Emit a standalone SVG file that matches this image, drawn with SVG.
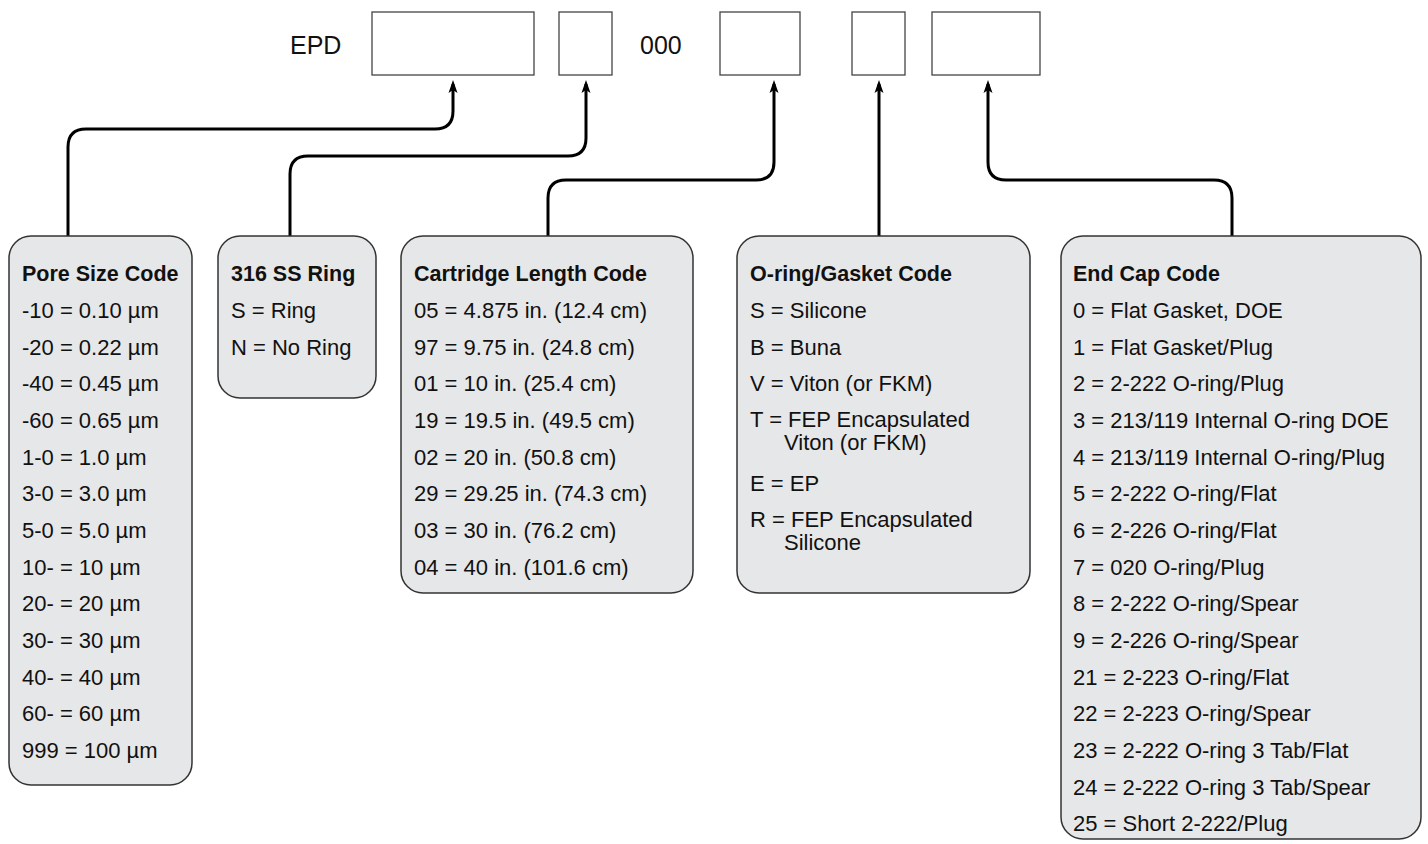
<svg xmlns="http://www.w3.org/2000/svg" width="1428" height="844" viewBox="0 0 1428 844">
<defs>
<marker id="arr" markerWidth="14" markerHeight="10" refX="9" refY="5" orient="auto" markerUnits="userSpaceOnUse" viewBox="0 0 14 10">
<path d="M0,0.5 L13,5 L0,9.5 L3,5 Z" fill="#000"/>
</marker>
</defs>
<style>
.slot{fill:#fff;stroke:#444;stroke-width:1.3}
.card{fill:#e6e7e8;stroke:#333;stroke-width:1.5}
.t{font-family:"Liberation Sans",Arial,sans-serif;font-size:22px;fill:#111}
.h{font-family:"Liberation Sans",Arial,sans-serif;font-size:21.5px;font-weight:bold;fill:#111}
.big{font-family:"Liberation Sans",Arial,sans-serif;font-size:25px;fill:#111}
.c{fill:none;stroke:#000;stroke-width:3}
</style>
<g id="code">
<text class="big" x="290" y="54">EPD</text>
<rect class="slot" x="372" y="12" width="162" height="63"/>
<rect class="slot" x="559" y="12" width="53" height="63"/>
<text class="big" x="640" y="54">000</text>
<rect class="slot" x="720" y="12" width="80" height="63"/>
<rect class="slot" x="852" y="12" width="53" height="63"/>
<rect class="slot" x="932" y="12" width="108" height="63"/>
</g>
<g id="connectors">
<path class="c" marker-end="url(#arr)" d="M68,236 V147 Q68,129 86,129 H435 Q453,129 453,111 V84"/>
<path class="c" marker-end="url(#arr)" d="M290,236 V174 Q290,156 308,156 H568 Q586,156 586,138 V84"/>
<path class="c" marker-end="url(#arr)" d="M548,236 V198 Q548,180 566,180 H756 Q774,180 774,162 V84"/>
<path class="c" marker-end="url(#arr)" d="M879,236 V84"/>
<path class="c" marker-end="url(#arr)" d="M1232,236 V198 Q1232,180 1214,180 H1006 Q988,180 988,162 V84"/>
</g>
<g id="pore">
<rect class="card" x="9" y="236" width="183" height="549" rx="22"/>
<text class="h" x="22" y="281">Pore Size Code</text>
<text class="t" x="22" y="318">-10 = 0.10 µm</text>
<text class="t" x="22" y="354.7">-20 = 0.22 µm</text>
<text class="t" x="22" y="391.3">-40 = 0.45 µm</text>
<text class="t" x="22" y="428">-60 = 0.65 µm</text>
<text class="t" x="22" y="464.7">1-0 = 1.0 µm</text>
<text class="t" x="22" y="501.3">3-0 = 3.0 µm</text>
<text class="t" x="22" y="538">5-0 = 5.0 µm</text>
<text class="t" x="22" y="574.7">10- = 10 µm</text>
<text class="t" x="22" y="611.3">20- = 20 µm</text>
<text class="t" x="22" y="648">30- = 30 µm</text>
<text class="t" x="22" y="684.7">40- = 40 µm</text>
<text class="t" x="22" y="721.3">60- = 60 µm</text>
<text class="t" x="22" y="758">999 = 100 µm</text>
</g>
<g id="ring">
<rect class="card" x="218" y="236" width="158" height="162" rx="22"/>
<text class="h" x="231" y="281">316 SS Ring</text>
<text class="t" x="231" y="318">S = Ring</text>
<text class="t" x="231" y="354.7">N = No Ring</text>
</g>
<g id="length">
<rect class="card" x="401" y="236" width="292" height="357" rx="22"/>
<text class="h" x="414" y="281">Cartridge Length Code</text>
<text class="t" x="414" y="318">05 = 4.875 in. (12.4 cm)</text>
<text class="t" x="414" y="354.7">97 = 9.75 in. (24.8 cm)</text>
<text class="t" x="414" y="391.3">01 = 10 in. (25.4 cm)</text>
<text class="t" x="414" y="428">19 = 19.5 in. (49.5 cm)</text>
<text class="t" x="414" y="464.7">02 = 20 in. (50.8 cm)</text>
<text class="t" x="414" y="501.3">29 = 29.25 in. (74.3 cm)</text>
<text class="t" x="414" y="538">03 = 30 in. (76.2 cm)</text>
<text class="t" x="414" y="574.7">04 = 40 in. (101.6 cm)</text>
</g>
<g id="oring">
<rect class="card" x="737" y="236" width="293" height="357" rx="22"/>
<text class="h" x="750" y="281">O-ring/Gasket Code</text>
<text class="t" x="750" y="318">S = Silicone</text>
<text class="t" x="750" y="354.7">B = Buna</text>
<text class="t" x="750" y="391.3">V = Viton (or FKM)</text>
<text class="t" x="750" y="427">T = FEP Encapsulated</text>
<text class="t" x="784" y="450">Viton (or FKM)</text>
<text class="t" x="750" y="491">E = EP</text>
<text class="t" x="750" y="527">R = FEP Encapsulated</text>
<text class="t" x="784" y="550">Silicone</text>
</g>
<g id="endcap">
<rect class="card" x="1061" y="236" width="360" height="603" rx="22"/>
<text class="h" x="1073" y="281">End Cap Code</text>
<text class="t" x="1073" y="318">0 = Flat Gasket, DOE</text>
<text class="t" x="1073" y="354.7">1 = Flat Gasket/Plug</text>
<text class="t" x="1073" y="391.3">2 = 2-222 O-ring/Plug</text>
<text class="t" x="1073" y="428">3 = 213/119 Internal O-ring DOE</text>
<text class="t" x="1073" y="464.7">4 = 213/119 Internal O-ring/Plug</text>
<text class="t" x="1073" y="501.3">5 = 2-222 O-ring/Flat</text>
<text class="t" x="1073" y="538">6 = 2-226 O-ring/Flat</text>
<text class="t" x="1073" y="574.7">7 = 020 O-ring/Plug</text>
<text class="t" x="1073" y="611.3">8 = 2-222 O-ring/Spear</text>
<text class="t" x="1073" y="648">9 = 2-226 O-ring/Spear</text>
<text class="t" x="1073" y="684.7">21 = 2-223 O-ring/Flat</text>
<text class="t" x="1073" y="721.3">22 = 2-223 O-ring/Spear</text>
<text class="t" x="1073" y="758">23 = 2-222 O-ring 3 Tab/Flat</text>
<text class="t" x="1073" y="794.7">24 = 2-222 O-ring 3 Tab/Spear</text>
<text class="t" x="1073" y="831.3">25 = Short 2-222/Plug</text>
</g>
</svg>
